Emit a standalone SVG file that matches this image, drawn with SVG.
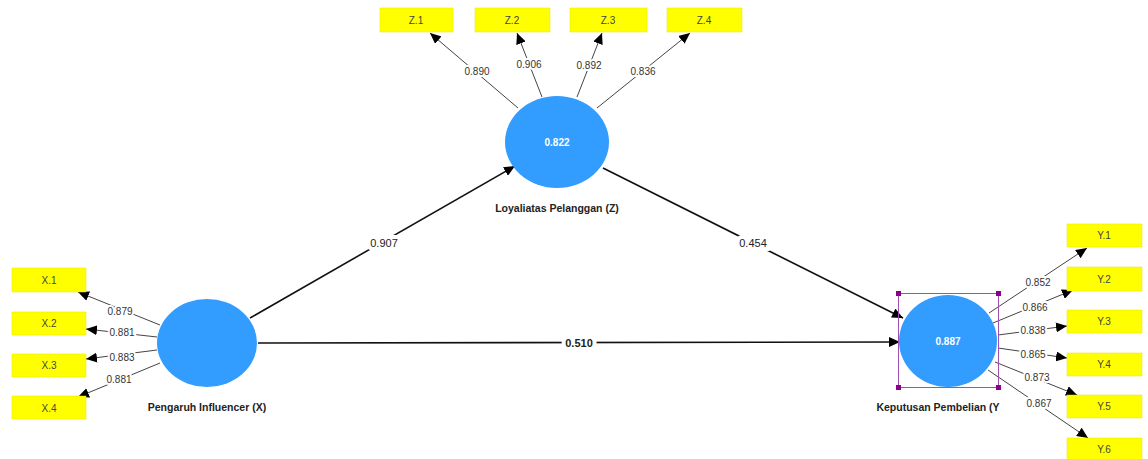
<svg xmlns="http://www.w3.org/2000/svg" width="1148" height="459" viewBox="0 0 1148 459">
<defs>
<style>
.box{fill:#ffff00;stroke:#e6e600;stroke-width:0.5}
.bt{font-family:"Liberation Sans",Arial,sans-serif;font-size:10px;fill:#444;text-anchor:middle}
.lv{fill:#339cff}
.lvt{font-family:"Liberation Sans",Arial,sans-serif;font-size:10px;font-weight:bold;fill:#fff;text-anchor:middle}
.nm{font-family:"Liberation Sans",Arial,sans-serif;font-size:10.5px;font-weight:bold;fill:#222;text-anchor:middle}
.ind{stroke:#444;stroke-width:1;fill:none}
.str{stroke:#111;stroke-width:1.6;fill:none}
.lab{font-family:"Liberation Sans",Arial,sans-serif;font-size:10px;fill:#333;text-anchor:middle;stroke:#fff;stroke-width:4;paint-order:stroke}
.labs{font-family:"Liberation Sans",Arial,sans-serif;font-size:11px;fill:#222;text-anchor:middle;stroke:#fff;stroke-width:8;paint-order:stroke}
</style>
<marker id="ah" markerUnits="userSpaceOnUse" markerWidth="12" markerHeight="10" refX="11" refY="5" orient="auto">
<path d="M0,0 L11,5 L0,10 Z" fill="#000"/>
</marker>
</defs>
<rect width="1148" height="459" fill="#fff"/>

<g id="connectors">
<line class="ind" x1="518" y1="108" x2="430" y2="33" marker-end="url(#ah)"/>
<line class="ind" x1="542" y1="97" x2="517" y2="33" marker-end="url(#ah)"/>
<line class="ind" x1="577" y1="97" x2="602" y2="33" marker-end="url(#ah)"/>
<line class="ind" x1="597" y1="108" x2="690" y2="33" marker-end="url(#ah)"/>
<line class="ind" x1="160" y1="325" x2="78" y2="292" marker-end="url(#ah)"/>
<line class="ind" x1="157" y1="337" x2="86" y2="329" marker-end="url(#ah)"/>
<line class="ind" x1="157" y1="350" x2="86" y2="359" marker-end="url(#ah)"/>
<line class="ind" x1="160" y1="363" x2="78" y2="397" marker-end="url(#ah)"/>
<line class="ind" x1="989" y1="313" x2="1087" y2="248" marker-end="url(#ah)"/>
<line class="ind" x1="993" y1="323" x2="1073" y2="290" marker-end="url(#ah)"/>
<line class="ind" x1="998" y1="335" x2="1067" y2="326" marker-end="url(#ah)"/>
<line class="ind" x1="998" y1="348" x2="1067" y2="358" marker-end="url(#ah)"/>
<line class="ind" x1="995" y1="362" x2="1077" y2="395" marker-end="url(#ah)"/>
<line class="ind" x1="988" y1="370" x2="1088" y2="438" marker-end="url(#ah)"/>
<line class="str" x1="250" y1="318" x2="515" y2="166" marker-end="url(#ah)"/>
<line class="str" x1="603" y1="168" x2="903" y2="318" marker-end="url(#ah)"/>
<line class="str" x1="258" y1="343" x2="900" y2="342" marker-end="url(#ah)"/>
<text class="lab" x="477" y="75">0.890</text>
<text class="lab" x="529" y="68">0.906</text>
<text class="lab" x="589" y="69">0.892</text>
<text class="lab" x="643" y="75">0.836</text>
<text class="lab" x="120" y="315">0.879</text>
<text class="lab" x="122" y="336">0.881</text>
<text class="lab" x="122" y="361">0.883</text>
<text class="lab" x="119" y="383">0.881</text>
<text class="lab" x="1038" y="286">0.852</text>
<text class="lab" x="1035" y="311">0.866</text>
<text class="lab" x="1033" y="334">0.838</text>
<text class="lab" x="1033" y="358">0.865</text>
<text class="lab" x="1037" y="381">0.873</text>
<text class="labs" x="384" y="247">0.907</text>
<text class="labs" x="753" y="247">0.454</text>
<text class="labs" x="579" y="347" font-weight="bold">0.510</text>
</g>

<g id="node-Z">
<ellipse class="lv" cx="557" cy="142" rx="52" ry="46"/>
<text class="lvt" x="557" y="146">0.822</text>
<text class="nm" x="557" y="212">Loyaliatas Pelanggan (Z)</text>
</g>
<g id="node-X">
<ellipse class="lv" cx="207" cy="343" rx="50" ry="44"/>
<text class="nm" x="207" y="411">Pengaruh Influencer (X)</text>
</g>
<g id="node-Y">
<ellipse class="lv" cx="948" cy="341" rx="49" ry="46"/>
<text class="lvt" x="948" y="345">0.887</text>
<rect x="898.5" y="293.5" width="100" height="94" fill="none" stroke="#a050b0" stroke-width="1"/>
<rect x="896" y="291" width="5" height="5" fill="#8a008a"/>
<rect x="996" y="291" width="5" height="5" fill="#8a008a"/>
<rect x="896" y="385" width="5" height="5" fill="#8a008a"/>
<rect x="996" y="385" width="5" height="5" fill="#8a008a"/>
<text class="nm" x="938" y="411">Keputusan Pembelian (Y</text>
<text class="lab" x="1039" y="407">0.867</text>
</g>

<g id="node-Z1"><rect class="box" x="380" y="8" width="73" height="24"/><text class="bt" x="416" y="24">Z.1</text></g>
<g id="node-Z2"><rect class="box" x="475" y="8" width="75" height="24"/><text class="bt" x="512" y="24">Z.2</text></g>
<g id="node-Z3"><rect class="box" x="570" y="8" width="77" height="24"/><text class="bt" x="608" y="24">Z.3</text></g>
<g id="node-Z4"><rect class="box" x="667" y="8" width="75" height="24"/><text class="bt" x="704" y="24">Z.4</text></g>

<g id="node-X1"><rect class="box" x="12" y="268" width="74" height="24"/><text class="bt" x="49" y="284">X.1</text></g>
<g id="node-X2"><rect class="box" x="12" y="312" width="74" height="23"/><text class="bt" x="49" y="327">X.2</text></g>
<g id="node-X3"><rect class="box" x="12" y="354" width="74" height="23"/><text class="bt" x="49" y="369">X.3</text></g>
<g id="node-X4"><rect class="box" x="12" y="396" width="74" height="23"/><text class="bt" x="49" y="412">X.4</text></g>

<g id="node-Y1"><rect class="box" x="1067" y="224" width="75" height="23"/><text class="bt" x="1104" y="239">Y.1</text></g>
<g id="node-Y2"><rect class="box" x="1067" y="267" width="75" height="24"/><text class="bt" x="1104" y="283">Y.2</text></g>
<g id="node-Y3"><rect class="box" x="1067" y="310" width="75" height="23"/><text class="bt" x="1104" y="325">Y.3</text></g>
<g id="node-Y4"><rect class="box" x="1067" y="353" width="75" height="23"/><text class="bt" x="1104" y="368">Y.4</text></g>
<g id="node-Y5"><rect class="box" x="1067" y="395" width="75" height="23"/><text class="bt" x="1104" y="410">Y.5</text></g>
<g id="node-Y6"><rect class="box" x="1067" y="438" width="75" height="23"/><text class="bt" x="1104" y="453">Y.6</text></g>
</svg>
